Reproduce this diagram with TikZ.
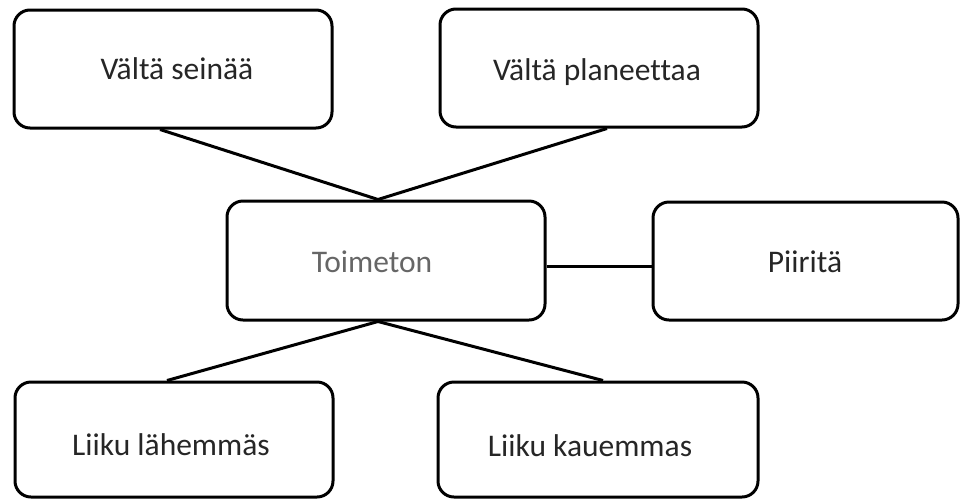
\documentclass[tikz,border=0pt]{standalone}
\usepackage{fontspec}
\setmainfont[Ligatures=NoCommon]{Carlito}
\begin{document}
\begin{tikzpicture}[x=1pt,y=-1pt,
  box/.style={draw=black,line width=3pt,rounded corners=16pt,fill=white,inner sep=0pt},
  lbl/.style={anchor=base,inner sep=0pt,text=black!85,font=\fontsize{31.5}{36}\selectfont},
  lite/.style={lbl,text=black!60},
  link/.style={line width=3pt}]
\useasboundingbox (0,0) rectangle (960,499);
% boxes
\node[box,minimum width=318pt,minimum height=118pt] (b1) at (173,69) {};
\node[box,minimum width=318pt,minimum height=118pt] (b2) at (599,68) {};
\node[box,minimum width=318pt,minimum height=119pt] (b3) at (386,260.5) {};
\node[box,minimum width=305pt,minimum height=118pt] (b4) at (805.5,261) {};
\node[box,minimum width=318pt,minimum height=115pt] (b5) at (174,439.5) {};
\node[box,minimum width=320pt,minimum height=115pt] (b6) at (598,439.5) {};
% labels
\node[lbl] (t1) at (177,79) {Vältä seinää};
\node[lbl] (t2) at (597,80) {Vältä planeettaa};
\node[lite] (t3) at (372,272) {Toimeton};
\node[lbl] (t4) at (805,272) {Piiritä};
\node[lbl] (t5) at (171,455) {Liiku lähemmäs};
\node[lbl] (t6) at (590,456) {Liiku kauemmas};
% connectors
\draw[link] ([xshift=-13pt]b1.south) -- ([xshift=-8pt]b3.north);
\draw[link] ([xshift=8pt]b2.south) -- ([xshift=-8pt]b3.north);
\draw[link] ([yshift=-5.5pt]b3.east) -- ([yshift=-5pt]b4.west);
\draw[link] ([xshift=-8pt]b3.south) -- ([xshift=-7pt]b5.north);
\draw[link] ([xshift=-8pt]b3.south) -- ([xshift=5pt]b6.north);
\end{tikzpicture}
\end{document}
